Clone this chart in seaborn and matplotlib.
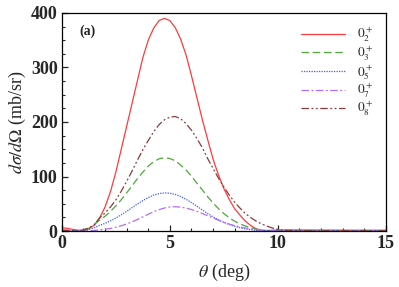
import numpy as np
import pandas as pd
import matplotlib
matplotlib.use("Agg")
import matplotlib.pyplot as plt
from matplotlib.ticker import MultipleLocator
import seaborn as sns

# angle grid (deg)
theta = [0.0, 0.25, 0.5, 0.75, 1.0, 1.25, 1.5, 1.75, 2.0, 2.25, 2.5, 2.75,
         3.0, 3.25, 3.5, 3.75, 4.0, 4.25, 4.5, 4.75, 5.0, 5.25, 5.5, 5.75,
         6.0, 6.25, 6.5, 6.75, 7.0, 7.25, 7.5, 7.75, 8.0, 8.25, 8.5, 8.75,
         9.0, 9.25, 9.5, 9.75, 10.0, 10.25, 10.5, 11.0, 12.0, 13.0, 14.0, 15.0]

# cross sections (mb/sr)
s_02 = [6, 5, 3, 1.5, 1, 4, 11, 24, 44, 72, 108, 150,
        192, 234, 276, 318, 350, 372, 386, 390, 386, 373, 352, 323,
        285, 245, 205, 168, 132, 103, 78, 58, 41, 29, 18, 10,
        4, 1.5, 1, 1.5, 2, 2, 2, 2, 1.8, 1.6, 1.5, 1.5]
s_03 = [2, 1.5, 1, 0.5, 2, 5, 12, 20, 27, 36, 46, 57.5,
        70, 83, 96, 108, 119, 127, 132.5, 134.5, 133, 128.7, 121, 112,
        100.5, 88, 75.6, 63, 51.6, 41, 32, 24.4, 18, 13, 9.2, 6,
        3.5, 1.5, 0.5, 0.5, 0.5, 0.5, 0.5, 0.5, 0.5, 0.5, 0.5, 0.5]
s_05 = [1, 1, 0.5, 0.5, 1, 3, 6, 10.5, 14.1, 18.6, 23.8, 29.8,
        36, 42.9, 49.6, 55.9, 61.4, 65.8, 68.7, 70, 69.4, 67.2, 63.3, 58.2,
        52.2, 45.6, 38.8, 32.2, 26, 20.6, 15.8, 11.9, 8.7, 6, 4, 2.5,
        1.2, 0.5, 0.5, 0.5, 0.5, 0.5, 0.5, 0.5, 0.5, 0.5, 0.5, 0.5]
s_07 = [0.5, 0.5, 0.5, 0.5, 0.5, 0.5, 1, 2.1, 3.2, 4.8, 6.9, 9.6,
        12.9, 16.8, 21.2, 26, 30.8, 35.4, 39.3, 42.3, 44.2, 44.6, 43.8, 42.1,
        39.4, 36.1, 32.2, 28.1, 23.9, 19.9, 16.1, 12.8, 9.8, 7.5, 5.5, 4,
        2.5, 1.5, 0.8, 0.5, 0.3, 0.3, 0.3, 0.3, 0.3, 0.3, 0.3, 0.3]
s_08 = [1, 1, 0.5, 0.5, 2, 6, 11, 24, 33, 44, 57, 73,
        91, 110, 130, 149, 166, 182, 195, 204, 209, 210, 206, 197,
        185, 170, 153, 133, 115, 97, 81, 66, 53, 42, 32, 24.5,
        18, 13, 9, 5.5, 3, 1.5, 1, 0.5, 0.5, 0.5, 0.5, 0.5]

labels = [r'$0_2^+$', r'$0_3^+$', r'$0_5^+$', r'$0_7^+$', r'$0_8^+$']
series = [s_02, s_03, s_05, s_07, s_08]
colors = ['#ff3b3b', '#4ea83a', '#3f5cff', '#b36bff', '#8a3b3b']
dashes = ['-', (0, (6, 3)), (0, (1, 1)), (0, (6, 2, 1.5, 2)), (0, (6, 2, 1.5, 2, 1.5, 2))]

sns.set_style('ticks')
plt.rcParams['font.family'] = ['Liberation Serif', 'DejaVu Serif']
plt.rcParams['mathtext.fontset'] = 'stix'

fig = plt.figure(figsize=(3.99, 2.87), dpi=100)
ax = fig.add_axes([0.155, 0.195, 0.812, 0.76])

for lab, vals, col, ls in zip(labels, series, colors, dashes):
    df = pd.DataFrame({'theta': theta, 'xs': vals})
    sns.lineplot(data=df, x='theta', y='xs', ax=ax, color=col, lw=0.9,
                 linestyle=ls, label=lab)

ax.set_xlim(0, 15)
ax.set_ylim(0, 400)
ax.xaxis.set_major_locator(MultipleLocator(5))
ax.xaxis.set_minor_locator(MultipleLocator(1))
ax.yaxis.set_major_locator(MultipleLocator(100))
ax.yaxis.set_minor_locator(MultipleLocator(25))
ax.tick_params(which='both', direction='in', top=False, right=False)
ax.tick_params(which='major', length=4, width=0.9, labelsize=13, pad=3)
ax.tick_params(which='minor', length=2.5, width=0.8)
for t in ax.get_xticklabels() + ax.get_yticklabels():
    t.set_fontweight('bold')
for sp in ax.spines.values():
    sp.set_linewidth(0.9)
    sp.set_color('black')

ax.set_xlabel(r'$\theta$ (deg)', fontsize=13, labelpad=7)
ax.set_ylabel(r'$d\sigma/d\Omega$ (mb/sr)', fontsize=13, labelpad=2)
ax.text(0.055, 0.9, '(a)', transform=ax.transAxes, fontsize=10,
        fontweight='bold')

leg = ax.legend(loc='upper right', frameon=False, fontsize=9.5,
                handlelength=3.3, labelspacing=0.0, borderaxespad=0.6,
                handletextpad=0.9)

fig.savefig('out.png', dpi=100)
